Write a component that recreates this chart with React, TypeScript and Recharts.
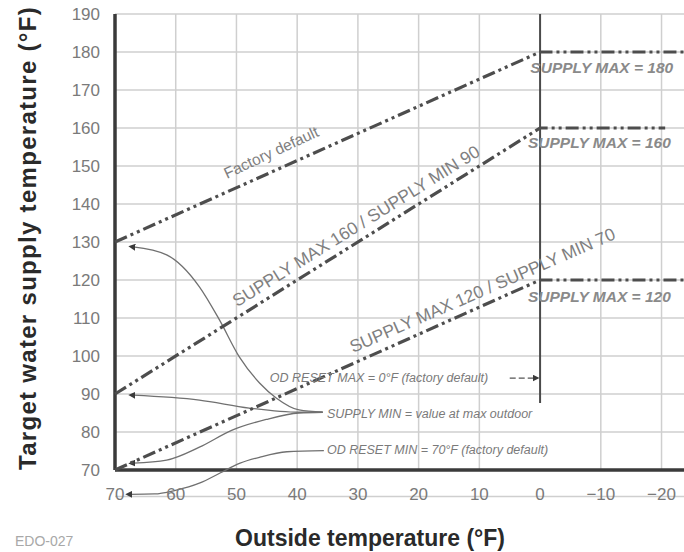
import {
  LineChart,
  Line,
  XAxis,
  YAxis,
  CartesianGrid,
  ReferenceLine,
  ReferenceDot,
} from "recharts";

const FONT = '"Liberation Sans", Arial, Helvetica, sans-serif';

// axis ticks (outdoor temp runs from 70 down to -20)
const xTicks = [70, 60, 50, 40, 30, 20, 10, 0, -10, -20];
const xGrid = [60, 50, 40, 30, 20, 10, -10, -20];
const yTicks = [70, 80, 90, 100, 110, 120, 130, 140, 150, 160, 170, 180, 190];

const xTitle = "Outside temperature (°F)";
const yTitle = "Target water supply temperature (°F)";
const figureCode = "EDO-027";

// reset curves
const factoryDefault = [
  { x: 70, y: 130 },
  { x: 0, y: 180 },
  { x: -23.7, y: 180 },
];
const max160min90 = [
  { x: 70, y: 90 },
  { x: 0, y: 160 },
  { x: -20.6, y: 160 },
];
const max120min70 = [
  { x: 70, y: 70 },
  { x: 0, y: 120 },
  { x: -23.7, y: 120 },
];

// OD reset max marker at 0°F
const odResetMaxLine = [
  { x: 0, y: 190 },
  { x: 0, y: 87.6 },
];

// annotation leader curves
const leaderA = [
  { x: 67, y: 128.7 },
  { x: 61.5, y: 126.6 },
  { x: 56.1, y: 118.2 },
  { x: 52.8, y: 109.5 },
  { x: 49.5, y: 99.7 },
  { x: 46.2, y: 92.9 },
  { x: 43.4, y: 88.9 },
  { x: 39.7, y: 85.8 },
  { x: 35.8, y: 85.2 },
];
const leaderB = [
  { x: 67, y: 89.7 },
  { x: 56.1, y: 88.4 },
  { x: 47.9, y: 86.3 },
  { x: 39.7, y: 85.2 },
  { x: 35.8, y: 85.2 },
];
const leaderC = [
  { x: 67, y: 71.8 },
  { x: 61.5, y: 72.6 },
  { x: 56.1, y: 76 },
  { x: 50.7, y: 80.5 },
  { x: 45.1, y: 83.3 },
  { x: 39.7, y: 85 },
  { x: 35.8, y: 85.2 },
];
const leaderD = [
  { x: 67.5, y: 63.6 },
  { x: 63.5, y: 63.7 },
  { x: 60.2, y: 64.6 },
  { x: 56, y: 66.6 },
  { x: 52.7, y: 69.2 },
  { x: 49.4, y: 71.8 },
  { x: 46.1, y: 73.4 },
  { x: 41.7, y: 74.8 },
  { x: 35.6, y: 75.1 },
];
const leaderMax = [
  { x: 5, y: 94.2 },
  { x: 0.9, y: 94.2 },
];

// text notes, anchored in data units
const slopeNotes = [
  { text: "Factory default", x: 44.3, y: 153.6 },
  { text: "SUPPLY MAX 160 / SUPPLY MIN 90", x: 30.3, y: 134.2 },
  { text: "SUPPLY MAX 120 / SUPPLY MIN 70", x: 9.5, y: 117.3 },
];
const maxNotes = [
  { text: "SUPPLY MAX = 180", x: 1.6, y: 175.8 },
  { text: "SUPPLY MAX = 160", x: 2, y: 156.3 },
  { text: "SUPPLY MAX = 120", x: 2, y: 115.6 },
];
const leaderNotes = [
  { text: "OD RESET MAX = 0°F (factory default)", x: 44.5, y: 94.2 },
  { text: "SUPPLY MIN = value at max outdoor", x: 35.1, y: 84.7 },
  { text: "OD RESET MIN = 70°F (factory default)", x: 35.1, y: 75.3 },
];

const slopeAngles = [-25, -32, -23.5];
const slopeSizes = [15.5, 17.5, 17.5];

const fmtX = (v: number) => (v < 0 ? `\u2212${Math.abs(v)}` : `${v}`);

const textShape =
  (text: string, o: any) =>
  (p: any) => {
    const { cx, cy } = p;
    return (
      <text
        x={cx}
        y={cy}
        transform={o.angle ? `rotate(${o.angle} ${cx} ${cy})` : undefined}
        textAnchor={o.anchor || "start"}
        dominantBaseline="central"
        fontFamily={FONT}
        fontSize={o.size}
        fontStyle={o.italic ? "italic" : "normal"}
        fontWeight={o.weight || "normal"}
        letterSpacing={o.spacing || 0}
        fill={o.fill}
      >
        {text}
      </text>
    );
  };

const XTick = ({ x, y, payload }: any) => (
  <text
    x={x}
    y={y - 5}
    textAnchor="middle"
    fontFamily={FONT}
    fontSize={17}
    fill="#7a7a7a"
  >
    {fmtX(payload.value)}
  </text>
);

const XTitle = () => (
  <g>
    <text
      x={370}
      y={546}
      textAnchor="middle"
      fontFamily={FONT}
      fontSize={23}
      fontWeight="bold"
      fill="#2a2a2a"
    >
      {xTitle}
    </text>
    <text x={15} y={546} fontFamily={FONT} fontSize={14} fill="#a8a8a8">
      {figureCode}
    </text>
  </g>
);

const YTitle = () => (
  <text
    transform="translate(36,238) rotate(-90)"
    textAnchor="middle"
    fontFamily={FONT}
    fontSize={24}
    fontWeight="bold"
    letterSpacing={1.3}
    fill="#2a2a2a"
  >
    {yTitle}
  </text>
);

const dashDot = "13 4 3 4 3 4";

export default function App() {
  return (
    <div style={{ width: 684, height: 552, background: "#fff" }}>
      <style>{"body{margin:0}"}</style>
      <LineChart
        width={684}
        height={552}
        margin={{ top: 14, right: 0, bottom: 0, left: 0 }}
      >
        <defs>
          <marker
            id="arrowHead"
            viewBox="0 0 10 10"
            refX="3"
            refY="5"
            markerWidth="7"
            markerHeight="7"
            markerUnits="userSpaceOnUse"
            orient="auto-start-reverse"
          >
            <path d="M0,0 L10,5 L0,10 z" fill="#3a3a3a" />
          </marker>
        </defs>
        <CartesianGrid vertical={false} stroke="#cfcfcf" strokeWidth={1.5} />
        <XAxis
          type="number"
          dataKey="x"
          domain={[-23.7, 70]}
          reversed
          ticks={xTicks}
          interval={0}
          height={55.4}
          axisLine={false}
          tickLine={false}
          tick={<XTick />}
          label={{ content: () => <XTitle /> }}
        />
        <YAxis
          type="number"
          domain={[63, 190]}
          ticks={yTicks}
          interval={0}
          width={115}
          axisLine={false}
          tickLine={false}
          tickMargin={9}
          tick={{ fontSize: 17, fill: "#7a7a7a", fontFamily: FONT }}
          label={{ content: () => <YTitle /> }}
        />
        {xGrid.map((v) => (
          <ReferenceLine
            key={`g${v}`}
            segment={[
              { x: v, y: 70 },
              { x: v, y: 190 },
            ]}
            stroke="#cfcfcf"
            strokeWidth={1.5}
          />
        ))}
        <ReferenceLine
          segment={[
            { x: 70, y: 70 },
            { x: -23.7, y: 70 },
          ]}
          stroke="#3a3a3a"
          strokeWidth={3.5}
        />
        <ReferenceLine
          segment={[
            { x: 70, y: 70 },
            { x: 70, y: 190 },
          ]}
          stroke="#3a3a3a"
          strokeWidth={3.5}
        />
        <Line
          data={odResetMaxLine}
          dataKey="y"
          type="linear"
          stroke="#4a4a4a"
          strokeWidth={2}
          dot={false}
          activeDot={false}
          isAnimationActive={false}
        />
        {[leaderA, leaderB, leaderC, leaderD].map((d, i) => (
          <Line
            key={`l${i}`}
            data={d}
            dataKey="y"
            type="monotone"
            stroke="#707070"
            strokeWidth={1.3}
            dot={false}
            activeDot={false}
            markerStart="url(#arrowHead)"
            isAnimationActive={false}
          />
        ))}
        <Line
          data={leaderMax}
          dataKey="y"
          type="linear"
          stroke="#555"
          strokeWidth={1.3}
          strokeDasharray="6 3"
          dot={false}
          activeDot={false}
          markerEnd="url(#arrowHead)"
          isAnimationActive={false}
        />
        {[factoryDefault, max160min90, max120min70].map((d, i) => (
          <Line
            key={`s${i}`}
            data={d}
            dataKey="y"
            type="linear"
            stroke="#4d4d4d"
            strokeWidth={3.2}
            strokeDasharray={dashDot}
            dot={false}
            activeDot={false}
            isAnimationActive={false}
          />
        ))}
        {slopeNotes.map((n, i) => (
          <ReferenceDot
            key={n.text}
            x={n.x}
            y={n.y}
            r={0}
            shape={textShape(n.text, {
              angle: slopeAngles[i],
              anchor: "middle",
              size: slopeSizes[i],
              fill: "#808080",
            })}
          />
        ))}
        {maxNotes.map((n) => (
          <ReferenceDot
            key={n.text}
            x={n.x}
            y={n.y}
            r={0}
            shape={textShape(n.text, {
              size: 15.5,
              italic: true,
              weight: "bold",
              fill: "#8a8a8a",
            })}
          />
        ))}
        {leaderNotes.map((n) => (
          <ReferenceDot
            key={n.text}
            x={n.x}
            y={n.y}
            r={0}
            shape={textShape(n.text, {
              size: 12.5,
              italic: true,
              fill: "#7a7a7a",
            })}
          />
        ))}
      </LineChart>
    </div>
  );
}
